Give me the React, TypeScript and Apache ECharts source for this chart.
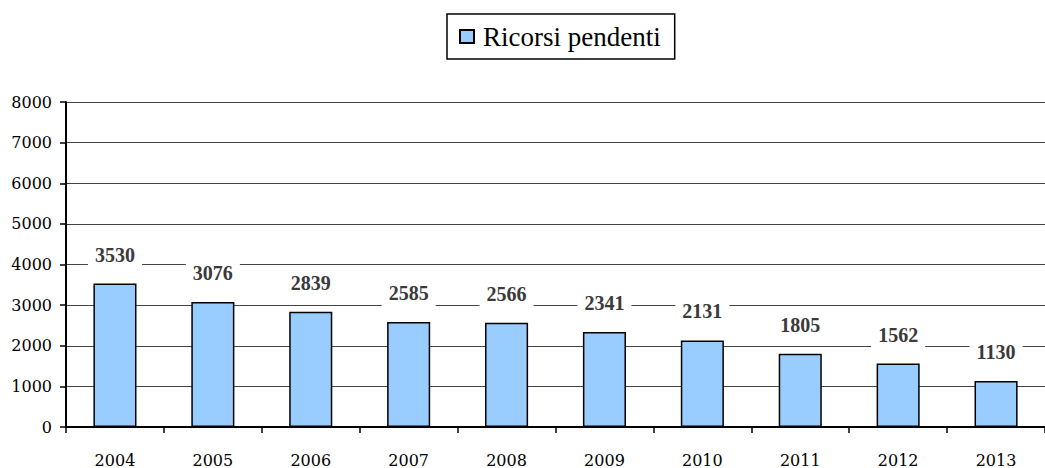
import React, { useEffect, useRef } from "react";
import * as echarts from "echarts";

const categories = ["2004", "2005", "2006", "2007", "2008", "2009", "2010", "2011", "2012", "2013"];
const seriesName = "Ricorsi pendenti";
const values = [3530, 3076, 2839, 2585, 2566, 2341, 2131, 1805, 1562, 1130];

const TICK_FONT = "DejaVu Serif";
const TEXT_FONT = "Liberation Serif";

export default function App() {
  const ref = useRef<HTMLDivElement>(null);
  useEffect(() => {
    document.body.style.margin = "0";
    const chart = echarts.init(ref.current!, null, { renderer: "svg" });
    chart.setOption({
      animation: false,
      backgroundColor: "#ffffff",
      textStyle: { fontFamily: TEXT_FONT },
      legend: {
        top: 14,
        left: 447,
        data: [seriesName],
        icon: "rect",
        itemWidth: 14,
        itemHeight: 13,
        itemGap: 10,
        borderColor: "#000",
        borderWidth: 1.5,
        padding: [9, 14, 9, 12],
        textStyle: { fontFamily: TEXT_FONT, fontSize: 27, color: "#000", padding: [0, 0, 0, 4] },
      },
      grid: { left: 66, width: 988, top: 102, height: 326, containLabel: false },
      xAxis: {
        type: "category",
        data: categories,
        axisLine: { lineStyle: { color: "#000", width: 2 } },
        axisTick: { show: true, inside: false, length: 6, alignWithLabel: false, lineStyle: { color: "#000", width: 1.5 } },
        axisLabel: { fontFamily: TICK_FONT, fontSize: 16, color: "#000", margin: 25 },
      },
      yAxis: {
        type: "value",
        min: 0,
        max: 8000,
        interval: 1000,
        axisLine: { show: true, lineStyle: { color: "#000", width: 2 } },
        axisTick: { show: true, length: 6, lineStyle: { color: "#000", width: 1.5 } },
        axisLabel: { fontFamily: TICK_FONT, fontSize: 16, color: "#000", margin: 14, formatter: (v: number) => String(v) },
        splitLine: { lineStyle: { color: "#444", width: 1 } },
      },
      series: [
        {
          name: seriesName,
          type: "bar",
          data: values,
          barWidth: "44%",
          itemStyle: { color: "#99CCFF", borderColor: "#000", borderWidth: 1.5 },
          label: {
            show: true,
            position: "top",
            distance: 15,
            fontFamily: TEXT_FONT,
            fontSize: 20,
            fontWeight: "bold",
            color: "#3a3a3a",
            backgroundColor: "#fff",
            padding: [3, 7, 4, 7],
          },
        },
      ],
    });
    return () => chart.dispose();
  }, []);
  return <div ref={ref} style={{ width: 1045, height: 468, position: "absolute", left: 0, top: 0 }} />;
}
